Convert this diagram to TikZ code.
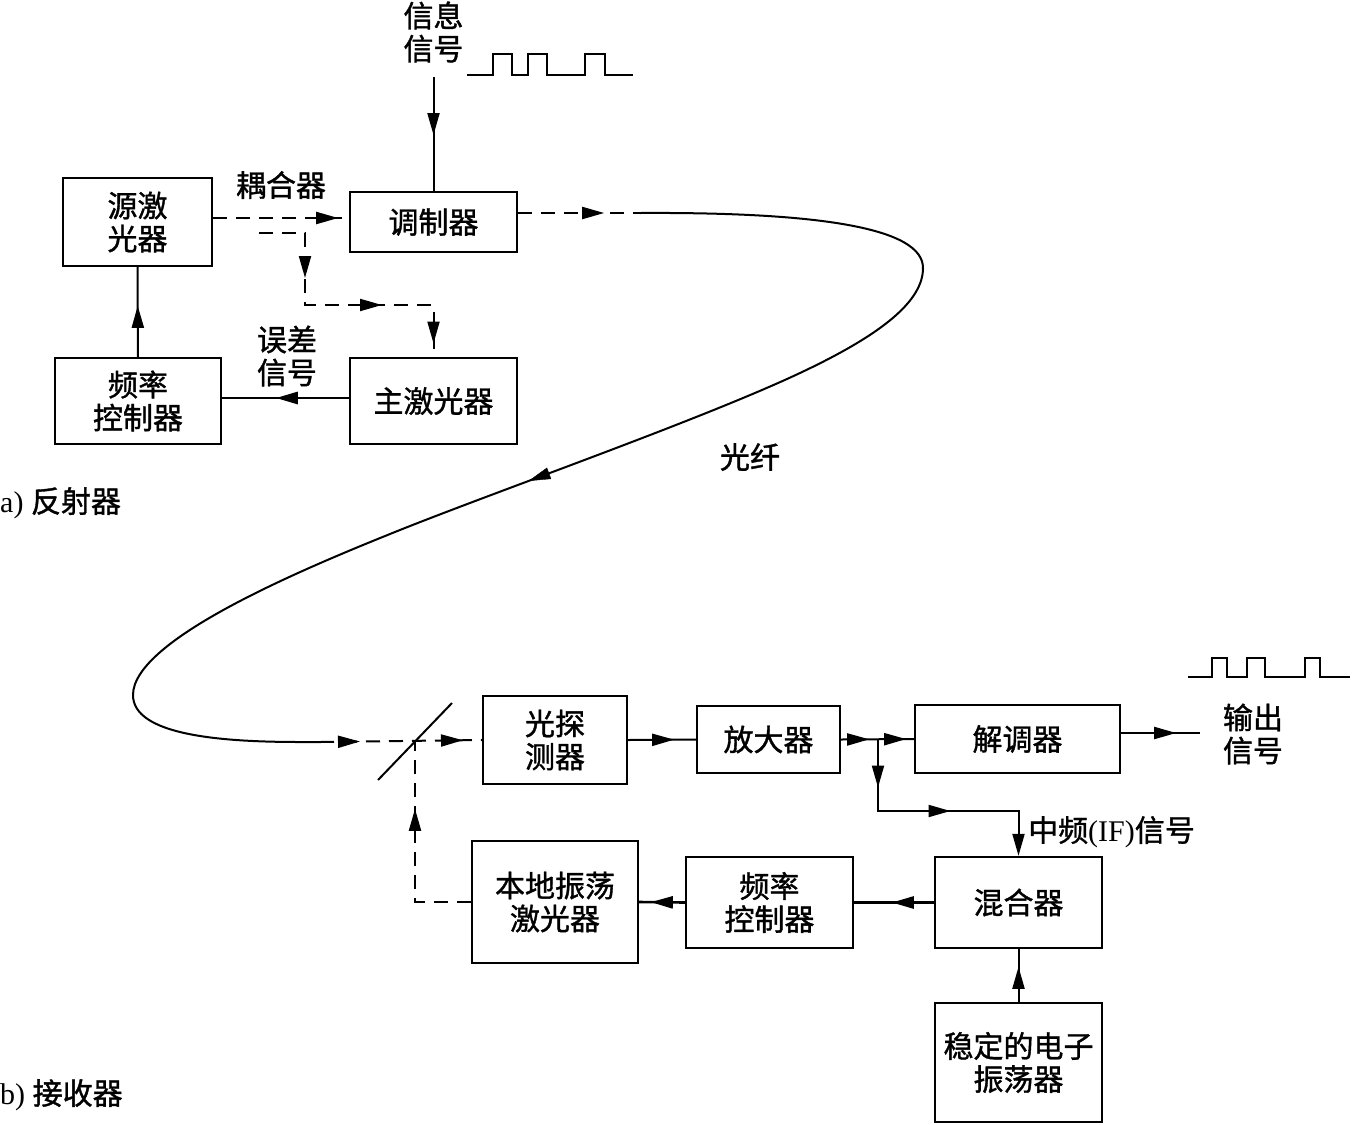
\documentclass[tikz,border=0pt]{standalone}
\usepackage{fontspec}
\setmainfont{Liberation Serif}
\newfontfamily\cjk{Noto Sans CJK SC}[FakeBold=1.2]
\usetikzlibrary{arrows.meta,decorations.markings}
\begin{document}
\begin{tikzpicture}[x=1pt,y=-1pt,
  box/.style={draw,line width=2.4pt,align=center,inner sep=0pt,font=\cjk\fontsize{30}{33}\selectfont},
  lbl/.style={align=center,inner sep=0pt,font=\cjk\fontsize{30}{33}\selectfont},
  conn/.style={line width=2pt},
  dashline/.style={line width=2pt,dash pattern=on 14pt off 9pt},
  tipat/.style={postaction={decorate,decoration={markings,mark=at position #1 with {\arrow{Triangle[length=22pt,width=12pt]}}}}},
  endtip/.style={-{Triangle[length=22pt,width=12pt]}},
]
\useasboundingbox (0,0) rectangle (1353,1125);

% ---------- (a) transmitter ----------
\node[box,minimum width=149pt,minimum height=88pt] (src) at (137.5,222) {源激\\光器};
\node[box,minimum width=167pt,minimum height=60pt] (mod) at (433.5,222) {调制器};
\node[box,minimum width=167pt,minimum height=86pt] (master) at (433.5,401) {主激光器};
\node[box,minimum width=166pt,minimum height=86pt] (fc1) at (138,401) {频率\\控制器};

\node[lbl] (info) at (433.5,32) {信息\\信号};
\node[lbl] (coup) at (281,185) {耦合器};
\node[lbl] (err) at (287,356) {误差\\信号};
\node[lbl] (fiber) at (750,457) {光纤};
\node[anchor=west,inner sep=0pt,font=\fontsize{30}{33}\selectfont] (la) at (0,503) {a) {\cjk 反射器}};

% input square wave
\draw[conn] (467,75) -- (493,75) -- (493,54) -- (512,54) -- (512,75) -- (528,75) -- (528,54) -- (547,54) -- (547,75) -- (585,75) -- (585,54) -- (605,54) -- (605,75) -- (633,75);

\coordinate (in) at (433.5,77);
\draw[conn,tipat=58pt] (in) -- (mod.north);
\draw[dashline,tipat=125pt] ([yshift=4pt]src.east) -- ([yshift=4pt]mod.west);
\coordinate (cp) at (259,233);
\coordinate (bend) at (305,305);
\draw[dashline,tipat=91pt,tipat=195pt,tipat=285pt] (cp) -| (bend) -| (master.north);
\draw[line width=2.8pt,tipat=73pt] ([yshift=3pt]master.west) -- ([yshift=3pt]fc1.east);
\draw[conn,tipat=51pt] (fc1.north) -- (src.south);

% ---------- fibre ----------
\coordinate (fs) at (640,213);
\coordinate (fe) at (320,742);
\coordinate (mir) at (415,742);
\draw[dashline,tipat=86pt] ([yshift=9pt]mod.east) -- (fs);
\draw[conn] (fs) .. controls (820,212) and (923,228) .. (923,268)
  .. controls (923,300) and (885,333) .. (800,373)
  .. controls (700,420) and (500,490) .. (400,530)
  .. controls (300,570) and (133,640) .. (133,695)
  .. controls (133,735) and (220,742) .. (300,742) -- (fe);
\path[tipat=0.68] (800,373) .. controls (700,420) and (500,490) .. (400,530);
\draw[line width=2pt] (378,780) -- (452,703);

% ---------- (b) receiver ----------
\node[box,minimum width=144pt,minimum height=88pt] (det) at (555,740) {光探\\测器};
\node[box,minimum width=143pt,minimum height=67pt] (amp) at (768.5,739.5) {放大器};
\node[box,minimum width=205pt,minimum height=68pt] (demod) at (1017.5,739) {解调器};
\node[box,minimum width=167pt,minimum height=91pt] (mixer) at (1018.5,902.5) {混合器};
\node[box,minimum width=167pt,minimum height=119pt] (osc) at (1018.5,1062.5) {稳定的电子\\振荡器};
\node[box,minimum width=167pt,minimum height=91pt] (fc2) at (769.5,902.5) {频率\\控制器};
\node[box,minimum width=166pt,minimum height=122pt] (lo) at (555,902) {本地振荡\\激光器};

\node[lbl] (outl) at (1253,734) {输出\\信号};
\node[anchor=west,inner sep=0pt,font=\fontsize{30}{33}\selectfont] (ifl) at (1028,832) {{\cjk 中频}(IF){\cjk 信号}};
\node[anchor=west,inner sep=0pt,font=\fontsize{30}{33}\selectfont] (lb) at (0,1095) {b) {\cjk 接收器}};

% output square wave
\draw[conn] (1188,677) -- (1212,677) -- (1212,658) -- (1227,658) -- (1227,677) -- (1247,677) -- (1247,658) -- (1265,658) -- (1265,677) -- (1305,677) -- (1305,658) -- (1320,658) -- (1320,677) -- (1350,677);

\draw[dashline,tipat=40pt,tipat=143pt] (fe) -- (det.west);
\draw[dashline,tipat=149pt] (lo.west) -| (mir);
\draw[conn,tipat=46pt] (det.east) -- (amp.west);
\coordinate (j) at (878,739.5);
\coordinate (jb) at (1018.5,811);
\draw[conn,tipat=28pt,tipat=65pt] (amp.east) -- (demod.west);
\draw[conn,tipat=48pt,tipat=144pt,endtip] (j) |- (jb) -- (mixer.north);
\coordinate (out) at (1200,733);
\draw[conn,tipat=55pt] ([yshift=6pt]demod.east) -- (out);
\draw[conn,tipat=35pt] (osc.north) -- (mixer.south);
\draw[line width=2.6pt,tipat=42pt] (mixer.west) -- (fc2.east);
\draw[line width=2.6pt,tipat=34pt] (fc2.west) -- (lo.east);
\end{tikzpicture}
\end{document}
